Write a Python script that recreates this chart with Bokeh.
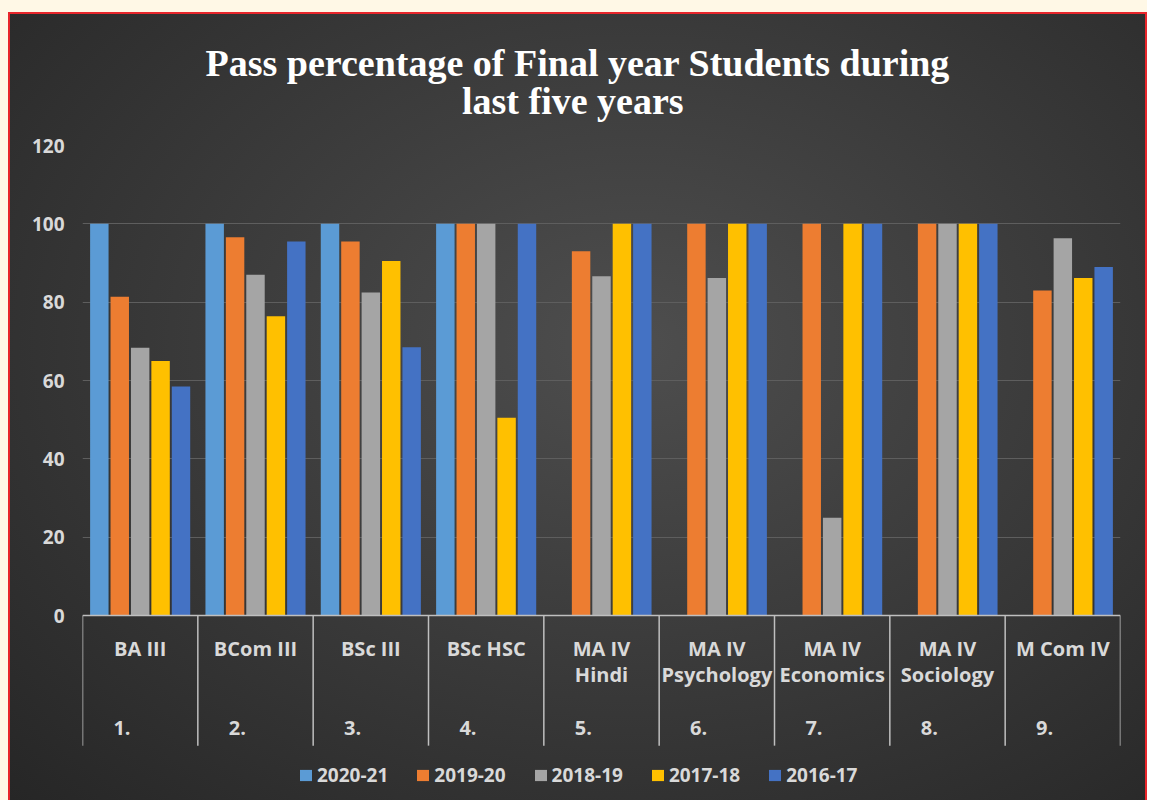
from bokeh.plotting import figure
from bokeh.models import Range1d, FixedTicker, Legend, LegendItem
from bokeh.layouts import column
from bokeh.embed import file_html
from bokeh.resources import INLINE

title_lines = ["Pass percentage of Final year Students during", "last five years"]
courses_line1 = ["BA III", "BCom III", "BSc III", "BSc HSC", "MA IV", "MA IV", "MA IV", "MA IV", "M Com IV"]
courses_line2 = ["", "", "", "", "Hindi", "Psychology", "Economics", "Sociology", ""]
serials = ["1.", "2.", "3.", "4.", "5.", "6.", "7.", "8.", "9."]
years = ["2020-21", "2019-20", "2018-19", "2017-18", "2016-17"]
v_2020_21 = [100, 100, 100, 100, 0, 0, 0, 0, 0]
v_2019_20 = [81.4, 96.6, 95.5, 100, 93, 100, 100, 100, 83]
v_2018_19 = [68.4, 87, 82.5, 100, 86.6, 86.2, 25, 100, 96.3]
v_2017_18 = [65, 76.4, 90.5, 50.5, 100, 100, 100, 100, 86.2]
v_2016_17 = [58.5, 95.5, 68.5, 100, 100, 100, 100, 100, 89]
series = [v_2020_21, v_2019_20, v_2018_19, v_2017_18, v_2016_17]
colors = ["#5b9bd5", "#ed7d31", "#a5a5a5", "#ffc000", "#4472c4"]

TXT = "#d9d9d9"
FONT = "Open Sans"
NB = "\u00a0"

# one two-line title; the short line is padded so both lines look centred
title_text = title_lines[0] + NB * 5 + "\n" + NB * 27 + title_lines[1]

# frame is extended below zero so the category labels and legend sit inside it
p = figure(width=1135, height=786, x_range=Range1d(0, 9), y_range=Range1d(-47.2, 120),
           output_backend="svg", toolbar_location=None, title=title_text,
           min_border_left=72, min_border_right=25, min_border_top=131, min_border_bottom=0,
           background_fill_alpha=0, border_fill_alpha=0)
p.outline_line_color = None

p.title.align = "center"
p.title.standoff = 47
p.title.text_color = "white"
p.title.text_font = "Liberation Serif"
p.title.text_font_style = "bold"
p.title.text_font_size = "38px"
p.title.text_line_height = 0.9

n = len(courses_line1)
centers = [i + 0.5 for i in range(n)]
pitch = 0.177
items = []
for j, (vals, col, yr) in enumerate(zip(series, colors, years)):
    xs = [c + (j - 2) * pitch for c in centers]
    r = p.vbar(x=xs, top=vals, bottom=0, width=0.16, fill_color=col, line_color=None)
    items.append(LegendItem(label=yr, renderers=[r]))

# category dividers below the zero line
bounds = list(range(n + 1))
p.segment(x0=bounds, y0=[0] * (n + 1), x1=bounds, y1=[-33.2] * (n + 1),
          line_color="#bfbfbf", line_width=1.5)

# grid
p.xgrid.visible = False
p.ygrid.ticker = FixedTicker(ticks=[20, 40, 60, 80, 100, 120])
p.ygrid.grid_line_color = "#5e5e5e"
p.ygrid.grid_line_width = 1

# y axis
p.yaxis.ticker = FixedTicker(ticks=[0, 20, 40, 60, 80, 100, 120])
p.yaxis.axis_line_color = None
p.yaxis.major_tick_line_color = None
p.yaxis.minor_tick_line_color = None
p.yaxis.major_label_standoff = 12
p.yaxis.major_label_text_color = TXT
p.yaxis.major_label_text_font = FONT
p.yaxis.major_label_text_font_style = "bold"
p.yaxis.major_label_text_font_size = "19px"

# x axis drawn at y = 0
labels = {}
for i in range(n):
    labels[centers[i]] = (courses_line1[i] + "\n" + courses_line2[i] + "\n\n" + serials[i] + NB * 7)
p.xaxis.fixed_location = 0
p.xaxis.ticker = FixedTicker(ticks=centers)
p.xaxis.major_label_overrides = labels
p.xaxis.major_label_text_color = TXT
p.xaxis.major_label_text_font = FONT
p.xaxis.major_label_text_font_style = "bold"
p.xaxis.major_label_text_font_size = "20px"
p.xaxis.major_label_text_line_height = 0.98
p.xaxis.major_label_standoff = 19
p.xaxis.major_tick_out = 0
p.xaxis.major_tick_in = 0
p.xaxis.minor_tick_line_color = None
p.xaxis.axis_line_color = "#bfbfbf"
p.xaxis.axis_line_width = 1.5

legend = Legend(items=items, orientation="horizontal", location=(216, 12),
                background_fill_alpha=0, border_line_color=None,
                label_text_color=TXT, label_text_font=FONT, label_text_font_style="bold",
                label_text_font_size="19px", glyph_width=15, glyph_height=14,
                label_standoff=4, spacing=27, margin=0, padding=4)
p.add_layout(legend)

inner = column(p, styles={
    "border": "2px solid #e8262b",
    "background": "radial-gradient(ellipse farthest-corner at 55% 42%, #4e4e4e 0%, #3c3c3c 45%, #262626 100%)"})
page = column(inner, styles={"background-color": "#fff8e6", "padding-top": "12px", "padding-left": "8px"})
open("out.html", "w").write(file_html(page, INLINE))
